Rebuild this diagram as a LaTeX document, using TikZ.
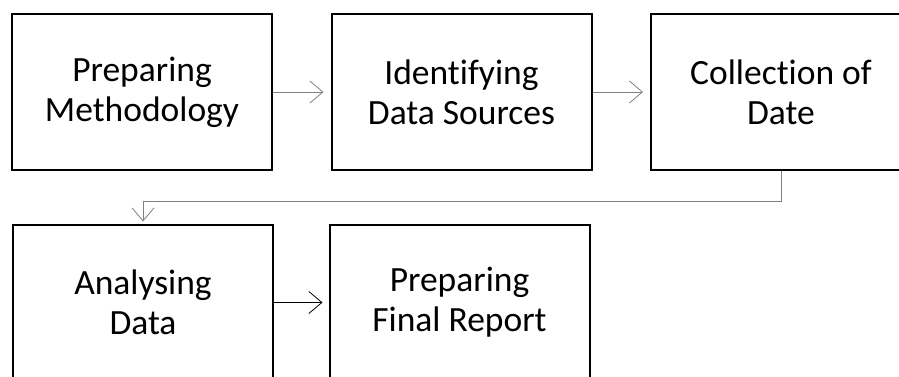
\documentclass[tikz,border=0pt]{standalone}
\usepackage{fontspec}
\setmainfont{Carlito}[Ligatures=NoCommon]
\usetikzlibrary{arrows.meta}
\begin{document}
\begin{tikzpicture}[x=1pt,y=-1pt,
  box/.style={draw=black, line width=2pt, minimum width=260pt, minimum height=156pt,
    align=center, inner sep=0pt, font=\fontsize{35.5}{40}\selectfont},
  flow/.style={draw=gray, line width=1pt, -{Straight Barb[length=13pt,width=22pt,line width=0.8pt]}},
  flowdark/.style={draw=black, line width=0.8pt, -{Straight Barb[length=13pt,width=22pt,line width=0.8pt]}}]
\useasboundingbox (0,0) rectangle (899,376);
\clip (0,0) rectangle (899,376);
\node[box] (b1) at (142,92) {Preparing\\Methodology};
\node[box] (b2) at (461.5,92) {Identifying\\Data Sources};
\node[box] (b3) at (781,92) {Collection of\\Date};
\node[box] (b4) at (143,302.5) {Analysing\\Data};
\node[box] (b5) at (459.5,302.5) {Preparing\\Final Report};
\draw[flow, shorten >=7pt] (b1) -- (b2);
\draw[flow, shorten >=7pt] (b2) -- (b3);
\draw[flow, shorten >=2pt] (b3.south) -- ++(0,30) -| (b4.north);
\draw[flowdark, shorten >=6pt] (b4) -- (b5);
\end{tikzpicture}
\end{document}
